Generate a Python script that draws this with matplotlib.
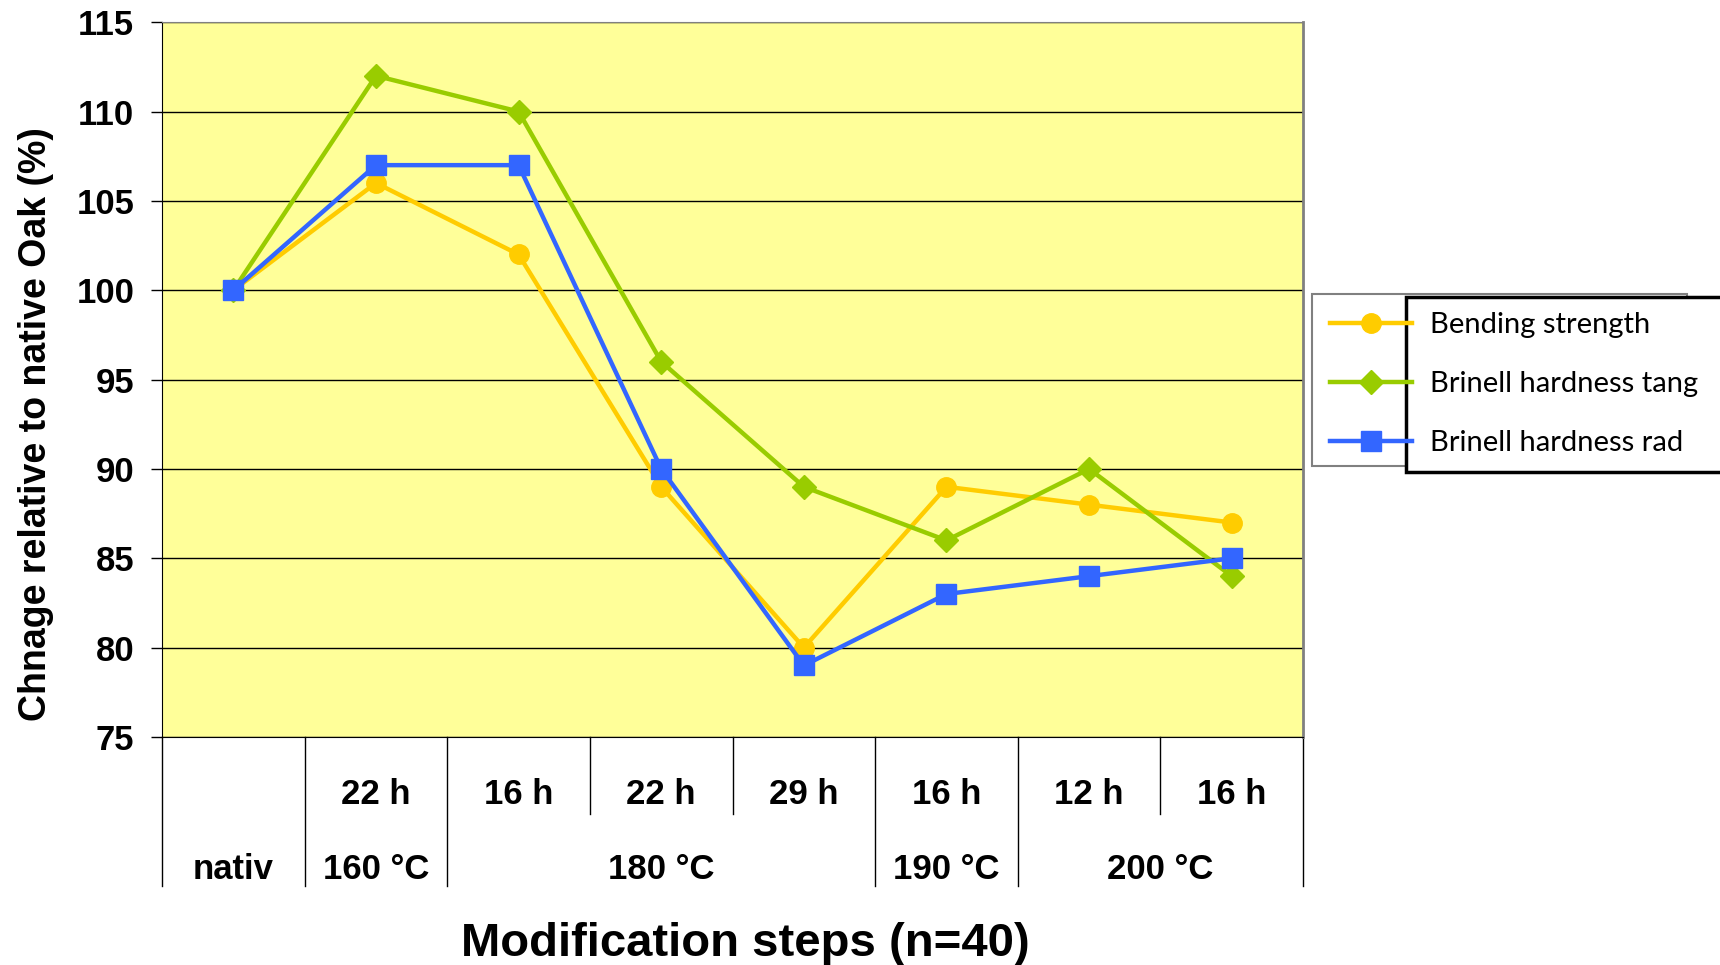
import matplotlib
matplotlib.use('Agg')
import matplotlib.pyplot as plt
from matplotlib.patches import Rectangle
import numpy as np

# Werte relativ zur nativen Eiche (%)
steps_hours = ['', '22 h', '16 h', '22 h', '29 h', '16 h', '12 h', '16 h']
temp_groups = ['nativ', '160 °C', '180 °C', '190 °C', '200 °C']
group_sizes = [1, 1, 3, 1, 2]

bending = [100, 106, 102, 89, 80, 89, 88, 87]
brinell_tang = [100, 112, 110, 96, 89, 86, 90, 84]
brinell_rad = [100, 107, 107, 90, 79, 83, 84, 85]

bold = dict(family='Liberation Sans', weight='bold')

fig = plt.figure(figsize=(17.2, 9.65), dpi=100)
ax = fig.add_axes([0.0942, 0.2363, 0.6634, 0.7407])
ax.set_facecolor('#FFFF99')

x = np.arange(len(steps_hours))
ax.plot(x, bending, color='#FFCC00', lw=3.2, marker='o', ms=14, label='Bending strength', zorder=3)
ax.plot(x, brinell_tang, color='#99CC00', lw=3.2, marker='D', ms=12.5, label='Brinell hardness tang', zorder=3)
ax.plot(x, brinell_rad, color='#3366FF', lw=3.2, marker='s', ms=14.5, label='Brinell hardness rad', zorder=4)

ax.set_xlim(-0.5, len(steps_hours) - 0.5)
ax.set_ylim(75, 115)
ax.set_yticks(np.arange(75, 116, 5))
ax.yaxis.grid(True, color='black', lw=1)
ax.set_axisbelow(True)
ax.set_xticks([])
ax.tick_params(axis='y', direction='out', length=8, width=1, pad=12)
for lbl in ax.get_yticklabels():
    lbl.set(fontsize=25, **bold)

for side in ['left', 'bottom']:
    ax.spines[side].set_color('black')
ax.spines['top'].set_color('#808080')
ax.spines['right'].set_color('#808080')
ax.spines['right'].set_linewidth(2)

# Tabelle unter der x-Achse
trans = ax.get_xaxis_transform()
edges = np.cumsum([0] + group_sizes) - 0.5
for e in np.arange(-0.5, len(steps_hours)):
    y_end = -0.2084 if e in edges else -0.1077
    ax.plot([e, e], [0, y_end], color='black', lw=1, transform=trans, clip_on=False)

for xi, h in zip(x, steps_hours):
    ax.text(xi, -0.080, h, transform=trans, ha='center', va='center', fontsize=25, **bold)

for start, size, name in zip(edges[:-1], group_sizes, temp_groups):
    ax.text(start + size / 2, -0.185, name, transform=trans, ha='center', va='center', fontsize=25, **bold)

fig.text(36 / 1720, 1 - 424 / 965, 'Chnage relative to native Oak (%)', rotation=90,
         ha='center', va='center', fontsize=27, **bold)
fig.text(745 / 1720, 1 - 944 / 965, 'Modification steps (n=40)', ha='center', va='center',
         fontsize=34, **bold)

# Legendenrahmen: grauer Rahmen, darüber weißes Feld mit schwarzem Rand
fig.patches.append(Rectangle((1312 / 1720, 1 - 466 / 965), 375 / 1720, 172 / 965,
                             transform=fig.transFigure, facecolor='white', edgecolor='#808080',
                             lw=1.5, zorder=1))
fig.patches.append(Rectangle((1406 / 1720, 1 - 472 / 965), 320 / 1720, 175 / 965,
                             transform=fig.transFigure, facecolor='white', edgecolor='black',
                             lw=2.5, zorder=2))

leg = fig.legend(loc='upper left', bbox_to_anchor=(1312 / 1720, 1 - 294 / 965), borderaxespad=0,
                 prop=dict(family='Lato', size=21), handlelength=2.8, handletextpad=0.62,
                 labelspacing=1.13, borderpad=0.62, frameon=False)
leg.set_zorder(5)

fig.savefig('out.png', dpi=100)
plt.close()
